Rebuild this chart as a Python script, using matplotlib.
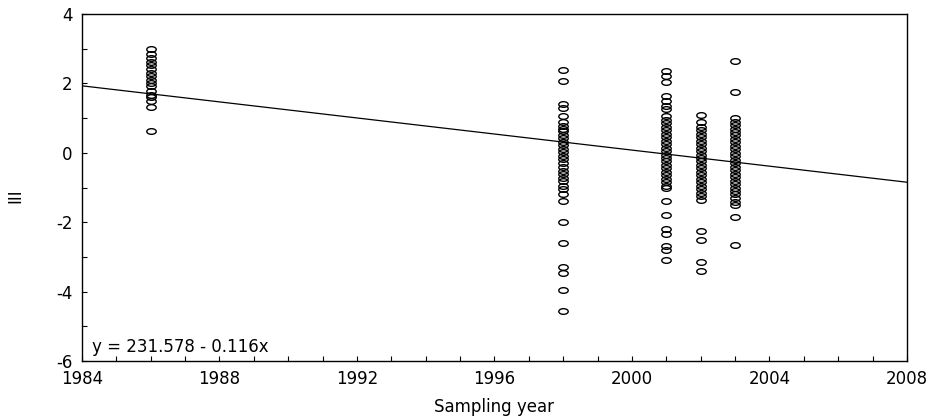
import numpy as np
import matplotlib
matplotlib.use('Agg')
import matplotlib.pyplot as plt
from matplotlib.path import Path
from matplotlib.ticker import MultipleLocator

plt.rcParams['font.family'] = ['DejaVu Sans']
plt.rcParams['axes.unicode_minus'] = False

# sampling years and the scores
years = [1986, 1998, 2001, 2002, 2003]
scores_1986 = [2.98, 2.85, 2.72, 2.62, 2.52, 2.42, 2.3, 2.2, 2.1, 2.02, 1.92,
               1.78, 1.68, 1.6, 1.5, 1.32, 0.62]
scores_1998 = [2.4, 2.07, 1.4, 1.28, 1.05, 0.9, 0.78, 0.7, 0.62, 0.52, 0.42,
               0.32, 0.22, 0.12, 0.02, -0.08, -0.18, -0.3, -0.42, -0.52, -0.62,
               -0.72, -0.82, -0.95, -1.05, -1.2, -1.38, -2.0, -2.6, -3.3,
               -3.45, -3.95, -4.55]
scores_2001 = [2.35, 2.2, 2.05, 1.65, 1.5, 1.35, 1.25, 1.05, 0.95, 0.85, 0.75,
               0.65, 0.55, 0.45, 0.35, 0.25, 0.15, 0.05, -0.05, -0.15, -0.25,
               -0.35, -0.45, -0.55, -0.65, -0.75, -0.85, -0.95, -1.02, -1.4,
               -1.8, -2.2, -2.35, -2.7, -2.8, -3.1]
scores_2002 = [1.1, 0.88, 0.75, 0.65, 0.55, 0.45, 0.35, 0.25, 0.15, 0.05,
               -0.05, -0.15, -0.25, -0.35, -0.45, -0.55, -0.65, -0.75, -0.85,
               -0.95, -1.05, -1.15, -1.25, -1.35, -2.25, -2.5, -3.15, -3.42]
scores_2003 = [2.65, 1.75, 1.0, 0.9, 0.8, 0.7, 0.6, 0.5, 0.4, 0.3, 0.2, 0.1,
               0.0, -0.1, -0.2, -0.3, -0.4, -0.5, -0.6, -0.7, -0.8, -0.9, -1.0,
               -1.1, -1.2, -1.3, -1.42, -1.5, -1.85, -2.65]
scores = [scores_1986, scores_1998, scores_2001, scores_2002, scores_2003]

# regression line
intercept = 231.578
slope = -0.11575
eq_label = 'y = 231.578 - 0.116x'

# flattened circle marker
circ = Path.unit_circle()
ellipse = Path(circ.vertices * [1.0, 0.6], circ.codes)

fig = plt.figure(figsize=(9.36, 4.19), dpi=100)
ax = fig.add_axes([0.0876, 0.1384, 0.8814, 0.8282])

for yr, vals in zip(years, scores):
    ax.plot([yr] * len(vals), vals, linestyle='none', marker=ellipse,
            markersize=6.8, markerfacecolor='none', markeredgecolor='black',
            markeredgewidth=1.0)

xl = np.array([1984, 2008])
ax.plot(xl, intercept + slope * xl, color='black', linewidth=0.9)

ax.set_xlim(1984, 2008)
ax.set_ylim(-6, 4)
ax.xaxis.set_major_locator(MultipleLocator(4))
ax.xaxis.set_minor_locator(MultipleLocator(1))
ax.yaxis.set_major_locator(MultipleLocator(2))
ax.yaxis.set_minor_locator(MultipleLocator(1))
ax.tick_params(which='both', direction='in', length=3.5, width=0.8,
               labelsize=12)
ax.tick_params(axis='y', pad=7)
ax.tick_params(axis='x', pad=6.5)

for sp in ax.spines.values():
    sp.set_linewidth(1.0)

ax.set_xlabel('Sampling year', fontsize=12, labelpad=7)
ax.set_ylabel('III', fontsize=12)
ax.yaxis.set_label_coords(-0.07, 0.475)

ax.text(0.012, 0.026, eq_label, transform=ax.transAxes, fontsize=12,
        ha='left', va='baseline')

fig.savefig('out.png', dpi=100)
